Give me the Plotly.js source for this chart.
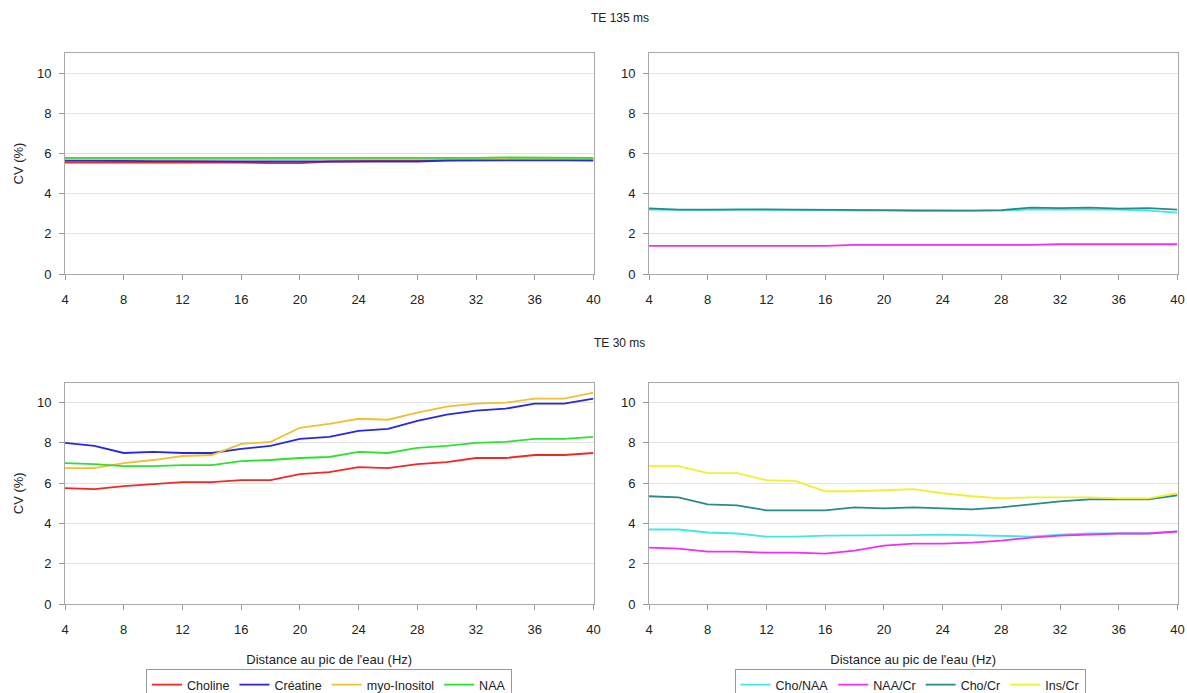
<!DOCTYPE html>
<html><head><meta charset="utf-8">
<script src="https://cdn.plot.ly/plotly-3.0.1.min.js"></script>
<style>body{margin:0;background:#fff}#c{width:1187px;height:693px}</style>
</head><body><div id="c"></div>
<script>
const dist = [4,6,8,10,12,14,16,18,20,22,24,26,28,30,32,34,36,38,40];

// TE 135 ms - metabolites
const te135_choline = [5.55,5.55,5.57,5.56,5.56,5.55,5.55,5.52,5.52,5.6,5.62,5.62,5.63,5.68,5.68,5.7,5.7,5.7,5.7];
const te135_creatine = [5.65,5.63,5.63,5.62,5.62,5.6,5.6,5.6,5.6,5.62,5.62,5.62,5.6,5.65,5.65,5.68,5.68,5.66,5.64];
const te135_inositol = [5.72,5.72,5.72,5.72,5.72,5.7,5.7,5.7,5.7,5.72,5.72,5.72,5.72,5.75,5.75,5.75,5.75,5.75,5.74];
const te135_naa = [5.78,5.78,5.78,5.78,5.78,5.76,5.76,5.76,5.76,5.78,5.78,5.78,5.78,5.78,5.78,5.8,5.8,5.8,5.78];

// TE 135 ms - ratios
const te135_choNaa = [3.2,3.18,3.18,3.2,3.2,3.18,3.18,3.15,3.15,3.15,3.15,3.15,3.15,3.22,3.22,3.22,3.2,3.15,3.05];
const te135_naaCr = [1.4,1.4,1.4,1.4,1.4,1.4,1.4,1.45,1.45,1.45,1.42,1.42,1.45,1.45,1.48,1.48,1.48,1.48,1.48];
const te135_choCr = [3.27,3.2,3.2,3.22,3.22,3.2,3.2,3.18,3.18,3.16,3.15,3.15,3.18,3.3,3.28,3.3,3.25,3.28,3.2];

// TE 30 ms - metabolites
const te30_choline = [5.75,5.7,5.85,5.95,6.05,6.05,6.15,6.15,6.45,6.55,6.8,6.75,6.95,7.05,7.25,7.25,7.4,7.4,7.5];
const te30_creatine = [8.0,7.85,7.5,7.55,7.5,7.5,7.7,7.85,8.2,8.3,8.6,8.7,9.1,9.4,9.6,9.7,9.95,9.95,10.2];
const te30_inositol = [6.75,6.75,7.0,7.15,7.35,7.4,7.95,8.05,8.75,8.95,9.2,9.15,9.5,9.8,9.95,10.0,10.2,10.2,10.5];
const te30_naa = [7.0,6.95,6.85,6.85,6.9,6.9,7.1,7.15,7.25,7.3,7.55,7.5,7.75,7.85,8.0,8.05,8.2,8.2,8.3];

// TE 30 ms - ratios
const te30_choNaa = [3.7,3.7,3.55,3.5,3.35,3.35,3.4,3.4,3.4,3.42,3.45,3.42,3.4,3.35,3.45,3.5,3.5,3.5,3.6];
const te30_naaCr = [2.8,2.75,2.6,2.6,2.55,2.55,2.5,2.65,2.9,3.0,3.0,3.05,3.15,3.3,3.4,3.45,3.5,3.5,3.6];
const te30_choCr = [5.35,5.3,4.95,4.9,4.65,4.65,4.65,4.8,4.75,4.8,4.75,4.7,4.8,4.95,5.1,5.2,5.2,5.2,5.4];
const te30_insCr = [6.85,6.85,6.5,6.5,6.15,6.1,5.6,5.6,5.65,5.7,5.5,5.35,5.25,5.3,5.3,5.3,5.25,5.25,5.5];

const names = {cho:'Choline', cr:'Créatine', ins:'myo-Inositol', naa:'NAA', choNaa:'Cho/NAA', naaCr:'NAA/Cr', choCr:'Cho/Cr', insCr:'Ins/Cr'};
const col = {cho:'#f02828', cr:'#2828e0', ins:'#f0c030', naa:'#30e030', choNaa:'#40e8e8', naaCr:'#f030f0', choCr:'#2a8a8a', insCr:'#f0f030'};

function tr(y, key, xa, ya, show, leg){
  return {x: dist, y: y, name: names[key], type:'scatter', mode:'lines',
    line:{color: col[key], width:1.8}, xaxis: xa, yaxis: ya, showlegend: show, legend: leg, hoverinfo:'skip'};
}

const data = [
  tr(te135_choline,'cho','x','y',false,'legend'),
  tr(te135_creatine,'cr','x','y',false,'legend'),
  tr(te135_inositol,'ins','x','y',false,'legend'),
  tr(te135_naa,'naa','x','y',false,'legend'),
  tr(te135_choNaa,'choNaa','x2','y2',false,'legend2'),
  tr(te135_naaCr,'naaCr','x2','y2',false,'legend2'),
  tr(te135_choCr,'choCr','x2','y2',false,'legend2'),
  tr(te30_choline,'cho','x3','y3',true,'legend'),
  tr(te30_creatine,'cr','x3','y3',true,'legend'),
  tr(te30_inositol,'ins','x3','y3',true,'legend'),
  tr(te30_naa,'naa','x3','y3',true,'legend'),
  tr(te30_choNaa,'choNaa','x4','y4',true,'legend2'),
  tr(te30_naaCr,'naaCr','x4','y4',true,'legend2'),
  tr(te30_choCr,'choCr','x4','y4',true,'legend2'),
  tr(te30_insCr,'insCr','x4','y4',true,'legend2')
];

const W=1187, H=693;
const xl=[65/W, 593.5/W], xr=[649/W, 1177.5/W];
const yt=[1-274/H, 1-53/H], yb=[1-604/H, 1-382.5/H];
const tf = {family:'Liberation Sans, Arial, sans-serif', size:13, color:'#222'};
const sf = {family:'Liberation Sans, Arial, sans-serif', size:12, color:'#222'};
const lf = {family:'Liberation Sans, Arial, sans-serif', size:12.5, color:'#222'};

function xax(dom, anchor, title){
  const a = {domain: dom, anchor: anchor, range:[4,40], tickvals:[4,8,12,16,20,24,28,32,36,40],
    ticks:'outside', ticklen:5, tickcolor:'#999', showline:true, linecolor:'#a8a8a8', mirror:true,
    showgrid:false, zeroline:false, tickfont: tf, ticklabelstandoff: 8, fixedrange:true, automargin:false};
  if (title) a.title = {text: title, font: tf, standoff: 19};
  return a;
}
function yax(dom, anchor, title){
  const a = {domain: dom, anchor: anchor, range:[0,11], tickvals:[0,2,4,6,8,10],
    ticks:'outside', ticklen:5, tickcolor:'#999', showline:true, linecolor:'#a8a8a8', mirror:true,
    showgrid:true, gridcolor:'#e2e2e2', zeroline:false, tickfont: tf, ticklabelstandoff: 5, fixedrange:true, automargin:false};
  if (title) a.title = {text: title, font: tf, standoff: 10};
  return a;
}

const layout = {
  width: W, height: H, margin:{l:0,r:0,t:0,b:0,autoexpand:false},
  paper_bgcolor:'#fff', plot_bgcolor:'#fff', font: tf,
  xaxis: xax(xl,'y'), yaxis: yax(yt,'x','CV (%)'),
  xaxis2: xax(xr,'y2'), yaxis2: yax(yt,'x2'),
  xaxis3: xax(xl,'y3','Distance au pic de l\'eau (Hz)'), yaxis3: yax(yb,'x3','CV (%)'),
  xaxis4: xax(xr,'y4','Distance au pic de l\'eau (Hz)'), yaxis4: yax(yb,'x4'),
  legend: {orientation:'h', x:329/W, xanchor:'center', y:1-669/H, yanchor:'top',
    bordercolor:'#999', borderwidth:1, font: lf, itemwidth:30, tracegroupgap:0},
  legend2: {orientation:'h', x:910/W, xanchor:'center', y:1-669/H, yanchor:'top',
    bordercolor:'#999', borderwidth:1, font: lf, itemwidth:30, tracegroupgap:0},
  annotations: [
    {text:'TE 135 ms', x:620/W, y:1-18/H, xref:'paper', yref:'paper', showarrow:false, font: sf, xanchor:'center', yanchor:'middle'},
    {text:'TE 30 ms', x:620/W, y:1-343/H, xref:'paper', yref:'paper', showarrow:false, font: sf, xanchor:'center', yanchor:'middle'}
  ]
};

Plotly.newPlot('c', data, layout, {displayModeBar:false, staticPlot:true});
</script></body></html>
